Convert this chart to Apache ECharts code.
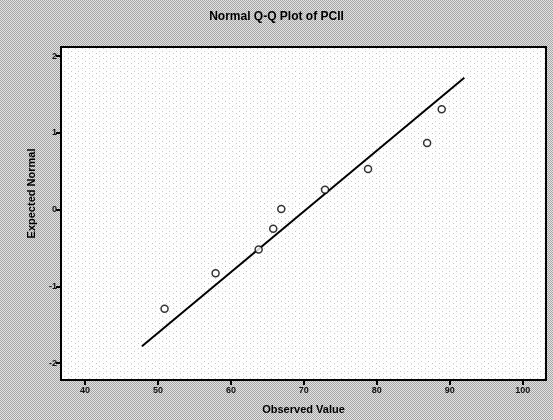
<!DOCTYPE html>
<html>
<head>
<meta charset="utf-8">
<script src="https://cdn.jsdelivr.net/npm/echarts@6/dist/echarts.min.js"></script>
<style>
  html, body { margin: 0; padding: 0; }
  #chart { width: 553px; height: 420px; }
</style>
</head>
<body>
<div id="chart"></div>
<script>
const observed = [50.9, 57.9, 63.8, 65.8, 66.9, 72.9, 78.8, 86.9, 88.9];
const expected = [-1.29, -0.83, -0.52, -0.25, 0.01, 0.26, 0.53, 0.87, 1.31];
// reference line ends
const lineX = [47.8, 92.0];
const lineY = [-1.78, 1.72];
const xTicks = [40, 50, 60, 70, 80, 90, 100];
const yTicks = [-2, -1, 0, 1, 2];

// dithered grey like the old spss output
function ditherPattern(c1, c2) {
  const cv = document.createElement('canvas');
  cv.width = 2; cv.height = 2;
  const ctx = cv.getContext('2d');
  ctx.fillStyle = c1; ctx.fillRect(0, 0, 2, 2);
  ctx.fillStyle = c2; ctx.fillRect(0, 0, 1, 1); ctx.fillRect(1, 1, 1, 1);
  return cv;
}
// sparse faint dots for the plot area
function dotPattern() {
  const cv = document.createElement('canvas');
  cv.width = 7; cv.height = 5;
  const ctx = cv.getContext('2d');
  ctx.fillStyle = '#fefefe'; ctx.fillRect(0, 0, 7, 5);
  ctx.fillStyle = '#c8c8c8'; ctx.fillRect(1, 1, 1, 1); ctx.fillRect(5, 3, 1, 1);
  return cv;
}

const chart = echarts.init(document.getElementById('chart'));

const labelStyle = { color: '#111', fontSize: 9, fontFamily: 'Liberation Sans', fontWeight: 'bold' };
const axisLineStyle = { show: true, onZero: false, lineStyle: { color: '#000', width: 2 } };

chart.setOption({
  backgroundColor: { image: ditherPattern('#e2e2e2', '#a6a6a6'), repeat: 'repeat' },
  animation: false,
  title: {
    text: 'Normal Q-Q Plot of PCII',
    left: 'center',
    top: 6,
    textStyle: { fontFamily: 'Liberation Sans', fontSize: 12, fontWeight: 'bold', color: '#000' }
  },
  grid: {
    left: 61, right: 7, top: 47, bottom: 38, show: true,
    backgroundColor: { image: dotPattern(), repeat: 'repeat' },
    borderColor: '#000', borderWidth: 2
  },
  xAxis: {
    type: 'value', min: 36.7, max: 103.2,
    name: 'Observed Value', nameLocation: 'middle', nameGap: 24,
    nameTextStyle: { fontFamily: 'Liberation Sans', fontSize: 11, fontWeight: 'bold', color: '#000' },
    axisLine: axisLineStyle,
    axisTick: { show: true, length: 5, lineStyle: { color: '#000', width: 2 }, customValues: xTicks },
    axisLabel: Object.assign({ margin: 6, customValues: xTicks }, labelStyle),
    splitLine: { show: false }
  },
  yAxis: {
    type: 'value', min: -2.22, max: 2.12,
    name: 'Expected Normal', nameLocation: 'middle', nameGap: 24,
    nameTextStyle: { fontFamily: 'Liberation Sans', fontSize: 11, fontWeight: 'bold', color: '#000', padding: [0, 0, 0, 40] },
    axisLine: axisLineStyle,
    axisTick: { show: true, length: 5, lineStyle: { color: '#000', width: 2 }, customValues: yTicks },
    axisLabel: Object.assign({ margin: 4, customValues: yTicks }, labelStyle),
    splitLine: { show: false }
  },
  series: [
    {
      type: 'line',
      data: lineX.map((x, i) => [x, lineY[i]]),
      symbol: 'none',
      lineStyle: { color: '#000', width: 2 },
      z: 2
    },
    {
      type: 'scatter',
      data: observed.map((x, i) => [x, expected[i]]),
      symbol: 'circle',
      symbolSize: 7,
      itemStyle: { color: '#fff', borderColor: '#000', borderWidth: 1.5 },
      z: 3
    }
  ]
});
</script>
</body>
</html>
